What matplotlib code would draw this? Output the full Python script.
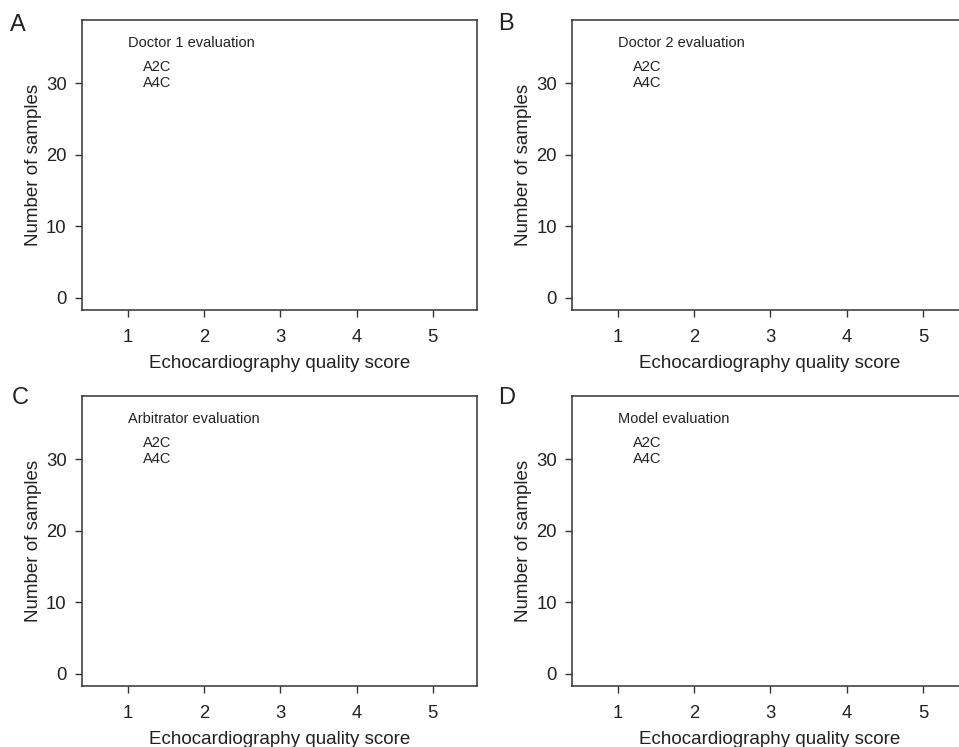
import matplotlib
matplotlib.use("Agg")
import matplotlib.pyplot as plt

# Datos del grafico (paneles vacios en la figura de referencia)
scores = [1, 2, 3, 4, 5]
y_ticks = [0, 10, 20, 30]
views = ["A2C", "A4C"]
panel_letters = ["A", "B", "C", "D"]
panel_titles = ["Doctor 1 evaluation", "Doctor 2 evaluation",
                "Arbitrator evaluation", "Model evaluation"]

plt.rcParams['font.family'] = ['Liberation Sans', 'DejaVu Sans']
text_color = '#222222'
spine_color = '#333333'

fig = plt.figure(figsize=(9.59, 7.47), dpi=100)

# posiciones de los paneles en fraccion de figura
positions = [
    [0.0855, 0.585, 0.412, 0.388],
    [0.5965, 0.585, 0.412, 0.388],
    [0.0855, 0.0817, 0.412, 0.388],
    [0.5965, 0.0817, 0.412, 0.388],
]
letter_pos = [(0.010, 0.966), (0.519, 0.968), (0.012, 0.467), (0.519, 0.467)]

for i in range(4):
    ax = fig.add_axes(positions[i])
    ax.set_xlim(0.4, 5.58)
    ax.set_ylim(-1.7, 38.8)
    ax.set_xticks(scores)
    ax.set_xticklabels([str(s) for s in scores])
    ax.set_yticks(y_ticks)
    ax.tick_params(direction='out', length=5, width=1, colors=spine_color,
                   labelcolor=text_color, labelsize=13.3)
    ax.tick_params(axis='x', pad=9)
    ax.tick_params(axis='y', pad=6)
    for sp in ax.spines.values():
        sp.set_color(spine_color)
        sp.set_linewidth(1.1)
    ax.set_xlabel('Echocardiography quality score', fontsize=13.5,
                  color=text_color, labelpad=6)
    ax.set_ylabel('Number of samples', fontsize=13.5, color=text_color,
                  labelpad=3)

    # leyenda como texto
    ax.text(0.116, 0.921, panel_titles[i], transform=ax.transAxes,
            fontsize=10.5, color=text_color, va='center', ha='left')
    for j, v in enumerate(views):
        ax.text(0.154, 0.838 - j * 0.055, v, transform=ax.transAxes,
                fontsize=10.5, color=text_color, va='center', ha='left')

    fig.text(letter_pos[i][0], letter_pos[i][1], panel_letters[i],
             fontsize=17, color=text_color, va='center', ha='left')

fig.savefig('out.png', dpi=100)
